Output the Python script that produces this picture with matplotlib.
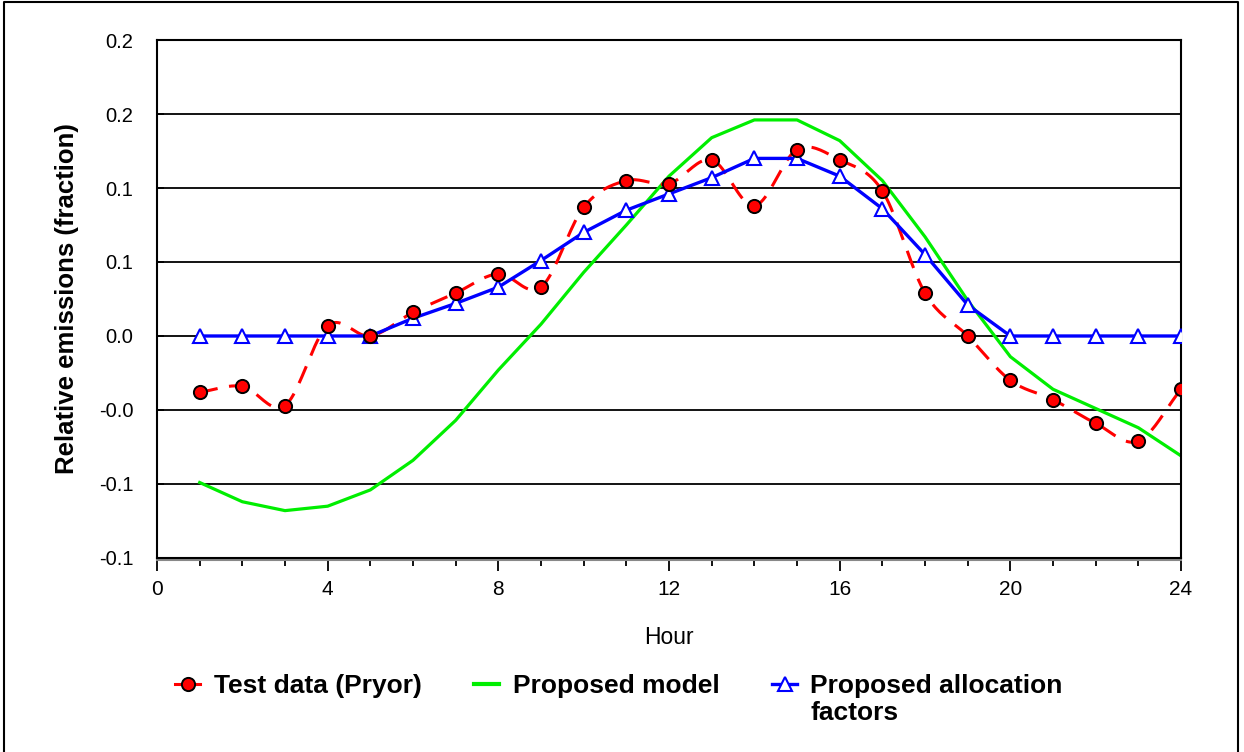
import numpy as np
import matplotlib.pyplot as plt
from matplotlib.lines import Line2D

plt.rcParams['font.family'] = ['Liberation Sans', 'DejaVu Sans']

hours = list(range(1, 25))
test_data = [-0.038, -0.034, -0.047, 0.007, 0.0, 0.016, 0.029, 0.042, 0.033, 0.087,
             0.105, 0.103, 0.119, 0.088, 0.126, 0.119, 0.098, 0.029, 0.0, -0.030,
             -0.043, -0.059, -0.071, -0.036]
model = [-0.099, -0.112, -0.118, -0.115, -0.104, -0.084, -0.057, -0.023, 0.008, 0.043,
         0.075, 0.108, 0.134, 0.146, 0.146, 0.132, 0.105, 0.067, 0.024, -0.014,
         -0.036, -0.049, -0.062, -0.081]
alloc = [0.0, 0.0, 0.0, 0.0, 0.0, 0.012, 0.022, 0.033, 0.051, 0.070,
         0.085, 0.096, 0.107, 0.120, 0.120, 0.108, 0.086, 0.055, 0.021, 0.0,
         0.0, 0.0, 0.0, 0.0]
y_ticks = [-0.15, -0.10, -0.05, 0.0, 0.05, 0.10, 0.15, 0.20]
y_labels = ['-0.1', '-0.1', '-0.0', '0.0', '0.1', '0.1', '0.2', '0.2']
x_ticks = [0, 4, 8, 12, 16, 20, 24]


def smooth(x, y, n=20):
    # Catmull-Rom curve through the points, like Excel's smoothed line
    x = np.asarray(x, float)
    y = np.asarray(y, float)
    px = np.concatenate([[2 * x[0] - x[1]], x, [2 * x[-1] - x[-2]]])
    py = np.concatenate([[2 * y[0] - y[1]], y, [2 * y[-1] - y[-2]]])
    t = np.linspace(0, 1, n, endpoint=False)
    xs, ys = [], []
    for i in range(1, len(px) - 2):
        for p, out in ((px, xs), (py, ys)):
            p0, p1, p2, p3 = p[i - 1], p[i], p[i + 1], p[i + 2]
            out.extend(0.5 * (2 * p1 + (-p0 + p2) * t
                              + (2 * p0 - 5 * p1 + 4 * p2 - p3) * t ** 2
                              + (-p0 + 3 * p1 - 3 * p2 + p3) * t ** 3))
    xs.append(x[-1])
    ys.append(y[-1])
    return xs, ys


fig = plt.figure(figsize=(12.44, 7.52), dpi=100)
ax = fig.add_axes([0.1262, 0.258, 0.8232, 0.6888])

for v in y_ticks:
    ax.axhline(v, color='black', lw=1.3, zorder=1)

sx, sy = smooth(hours, test_data)
ax.plot(sx, sy, color='red', lw=2.2, dashes=(6, 3.8), zorder=3)
ax.plot(hours, test_data, ls='none', marker='o', ms=9.5, mfc='red', mec='black',
        mew=1.4, zorder=5)
ax.plot(hours, model, color='#00ee00', lw=2.3, zorder=2)
ax.plot(hours, alloc, color='#0000ff', lw=2.4, marker='^', ms=9.5, mfc='white',
        mec='#0000ff', mew=1.5, zorder=4)

ax.set_xlim(0, 24)
ax.set_ylim(-0.15, 0.20)
ax.set_xticks(x_ticks)
ax.set_xticks(range(0, 25), minor=True)
ax.set_yticks(y_ticks)
ax.set_yticklabels(y_labels)
ax.tick_params(axis='x', which='major', direction='out', length=9, width=1.3,
               labelsize=15, pad=7)
ax.tick_params(axis='x', which='minor', direction='out', length=5.5, width=1.3)
ax.tick_params(axis='y', direction='in', length=5, width=1.3, labelsize=14.5, pad=17)
for s in ax.spines.values():
    s.set_linewidth(1.5)
# grey shadow line under the x axis
ax.add_line(Line2D([0, 1], [-0.004, -0.004], transform=ax.transAxes, color='#888888',
                   lw=1.5, clip_on=False))
ax.set_xlabel('Hour', fontsize=16.5, labelpad=19)
ax.set_ylabel('Relative emissions (fraction)', fontsize=18.5, fontweight='bold',
              labelpad=14)

handles = [
    Line2D([], [], color='red', lw=2.2, marker='o', ms=9.5,
           mfc='red', mec='black', mew=1.4),
    Line2D([], [], color='#00ee00', lw=3),
    Line2D([], [], color='#0000ff', lw=2.4, marker='^', ms=9.5, mfc='white',
           mec='#0000ff', mew=1.5),
]
labels = ['Test data (Pryor)', 'Proposed model', 'Proposed allocation']
leg = fig.legend(handles, labels, loc='upper left', bbox_to_anchor=(0.141, 0.104),
                 ncol=3, frameon=False, handlelength=0.95, handletextpad=0.5,
                 columnspacing=2.0, borderpad=0, borderaxespad=0,
                 prop={'weight': 'bold', 'size': 19})

# second line of the third legend label, placed under its first line
fig.canvas.draw()
bb = leg.get_texts()[2].get_window_extent().transformed(fig.transFigure.inverted())
fig.text(bb.x0, bb.y0 - 0.004, 'factors', fontsize=19, fontweight='bold',
         ha='left', va='top')

fig.add_artist(Line2D([0.003, 0.003, 0.995, 0.995], [0.0, 0.997, 0.997, 0.0],
                      transform=fig.transFigure, color='black', lw=1.5))

fig.savefig('out.png', dpi=100)
